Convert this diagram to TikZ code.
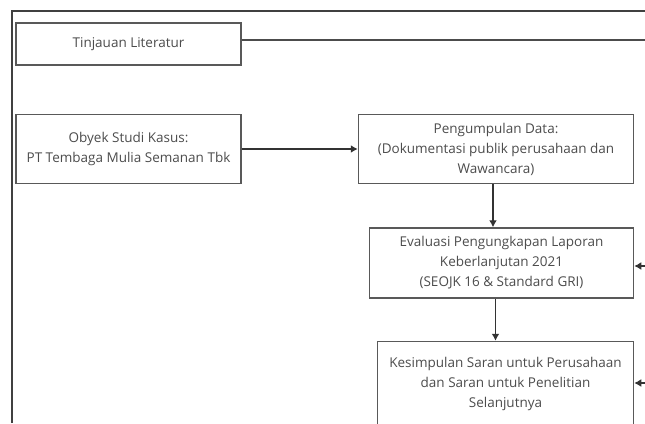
\documentclass[tikz,border=0pt]{standalone}
\usepackage{fontspec}
\setmainfont{Open Sans}
\usetikzlibrary{positioning,arrows.meta}

\begin{document}
\begin{tikzpicture}[
    x=1pt, y=-1pt,
    font=\fontsize{13.5}{20}\selectfont,
    box/.style={rectangle, draw=black!65, line width=1.5pt, text=black!70, align=center, inner sep=0pt},
    arrow/.style={-{Latex[length=7pt,width=8pt]}, line width=1.5pt, draw=black!80},
    link/.style={line width=1.5pt, draw=black!70},
    frame/.style={draw=black!75, line width=1.8pt}
]
    \useasboundingbox (0,0) rectangle (645,423);
    \draw[frame] (12,423) -- (12,11) -- (645,11);

    \node[box, minimum width=225pt, minimum height=42pt] (tinjauan) at (128.5,44) {Tinjauan Literatur};
    \node[box, minimum width=225pt, minimum height=69pt, below=48pt of tinjauan] (obyek) {Obyek Studi Kasus:\\PT Tembaga Mulia Semanan Tbk};
    \node[box, minimum width=275pt, minimum height=69pt, right=116pt of obyek] (data) {Pengumpulan Data:\\(Dokumentasi publik perusahaan dan\\Wawancara)};
    \node[box, minimum width=264pt, minimum height=70pt, below=43pt of data, xshift=5.5pt] (evaluasi) {Evaluasi Pengungkapan Laporan\\Keberlanjutan 2021\\(SEOJK 16 \& Standard GRI)};
    \node[box, minimum width=256pt, minimum height=85pt, below=42pt of evaluasi, xshift=4pt] (kesimpulan) {Kesimpulan Saran untuk Perusahaan\\dan Saran untuk Penelitian\\Selanjutnya};

    \coordinate (rtop) at (645,40);
    \coordinate (reval) at (645,266);
    \coordinate (rkes) at (645,383);

    \draw[link] (tinjauan.east |- rtop) -- (rtop);
    \draw[arrow] (obyek.east) -- (data.west);
    \draw[arrow] ([xshift=-3pt]data.south) -- ([xshift=-3pt]data.south |- evaluasi.north);
    \draw[arrow] ([xshift=-6pt]evaluasi.south) -- ([xshift=-6pt]evaluasi.south |- kesimpulan.north);
    \draw[arrow] (reval) -- (reval -| evaluasi.east);
    \draw[arrow] (rkes) -- (rkes -| kesimpulan.east);
\end{tikzpicture}
\end{document}
